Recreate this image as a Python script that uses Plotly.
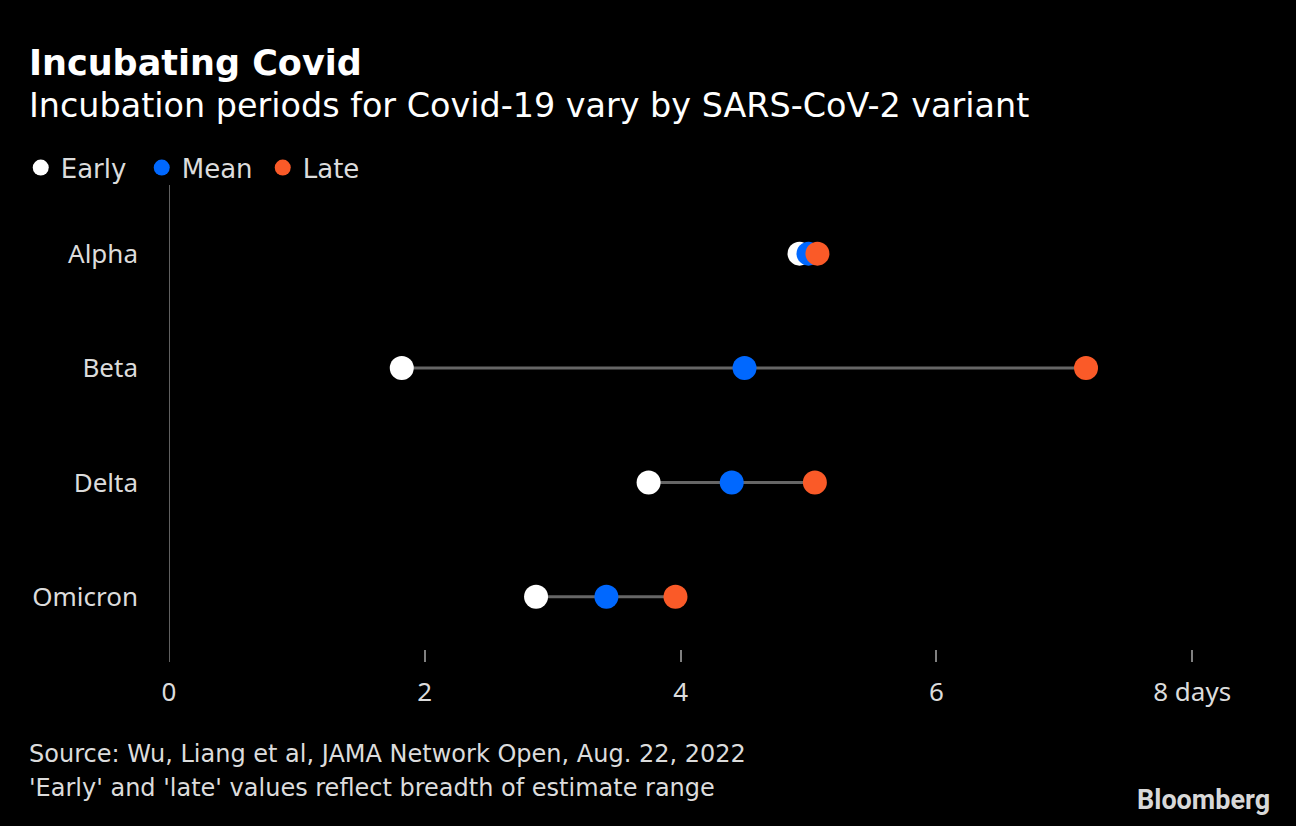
import plotly.graph_objects as go

variants = ["Alpha", "Beta", "Delta", "Omicron"]
early = [4.93, 1.82, 3.75, 2.87]
mean = [5.00, 4.50, 4.40, 3.42]
late = [5.07, 7.17, 5.05, 3.96]
x_ticks = [0, 2, 4, 6, 8]
x_ticktext = ["0", "2", "4", "6", "8 days"]

FONT = "Noto Sans, DejaVu Sans, sans-serif"
WIDE = "DejaVu Sans, sans-serif"
TEXT = "#dcdcdc"
rows = list(range(len(variants)))

fig = go.Figure()

# connector lines between early and late
for i in rows:
    fig.add_trace(go.Scatter(
        x=[early[i], late[i]], y=[i, i], mode="lines",
        line=dict(color="#666666", width=3),
        showlegend=False, hoverinfo="skip"
    ))

for name, vals, color in [("Early", early, "#ffffff"),
                          ("Mean", mean, "#0068ff"),
                          ("Late", late, "#fa5a28")]:
    fig.add_trace(go.Scatter(
        x=vals, y=rows, mode="markers", name=name,
        marker=dict(color=color, size=24, line=dict(width=0))
    ))

fig.add_shape(type="line", xref="x", yref="paper", x0=0, x1=0, y0=0, y1=1,
              line=dict(color="#808080", width=1.5))

fig.update_layout(
    width=1296, height=826,
    paper_bgcolor="black", plot_bgcolor="black",
    margin=dict(l=169, r=100, t=185, b=164, autoexpand=False),
    font=dict(family=FONT, color=TEXT, size=26),
    showlegend=True,
    legend=dict(orientation="h", xref="container", yref="container",
                x=0.016, y=0.797, xanchor="left", yanchor="middle",
                font=dict(size=26, color=TEXT, family=WIDE), itemwidth=30,
                entrywidth=76,
                bgcolor="rgba(0,0,0,0)", traceorder="normal"),
    xaxis=dict(range=[0, 8.03], tickvals=x_ticks, ticktext=x_ticktext,
               showgrid=False, zeroline=False, showline=False,
               ticks="inside", ticklen=12, tickcolor="#808080", tickwidth=1.5,
               ticklabelstandoff=12, tickfont=dict(size=26, color=TEXT)),
    yaxis=dict(range=[3.57, -0.6], tickvals=rows, ticktext=variants,
               showgrid=False, zeroline=False, showline=False,
               ticks="", ticklabelstandoff=30, tickfont=dict(size=26, color=TEXT)),
)

ann = [
    dict(text="<b>Incubating Covid</b>", x=-0.1378, y=1.2558, size=35, color="white"),
    dict(text="Incubation periods for Covid-19 vary by SARS-CoV-2 variant",
         x=-0.1378, y=1.1677, size=33.4, color="white"),
    dict(text="Source: Wu, Liang et al, JAMA Network Open, Aug. 22, 2022",
         x=-0.1378, y=-0.1929, size=24, color=TEXT),
    dict(text="'Early' and 'late' values reflect breadth of estimate range",
         x=-0.1378, y=-0.2642, size=24, color=TEXT),
]
for a in ann:
    fig.add_annotation(text=a["text"], xref="paper", yref="paper", x=a["x"], y=a["y"],
                       xanchor="left", yanchor="middle", showarrow=False,
                       font=dict(size=a["size"], color=a["color"], family=WIDE))
fig.add_annotation(text="<b>Bloomberg</b>", xref="paper", yref="paper", x=1.0743, y=-0.2893,
                   xanchor="right", yanchor="middle", showarrow=False,
                   font=dict(size=27, color="#d8d8d8", family="Roboto, Arial, sans-serif"))

fig.write_html("out.html", config={"displayModeBar": False},
               post_script="document.body.style.margin='0';document.body.style.background='black';")
